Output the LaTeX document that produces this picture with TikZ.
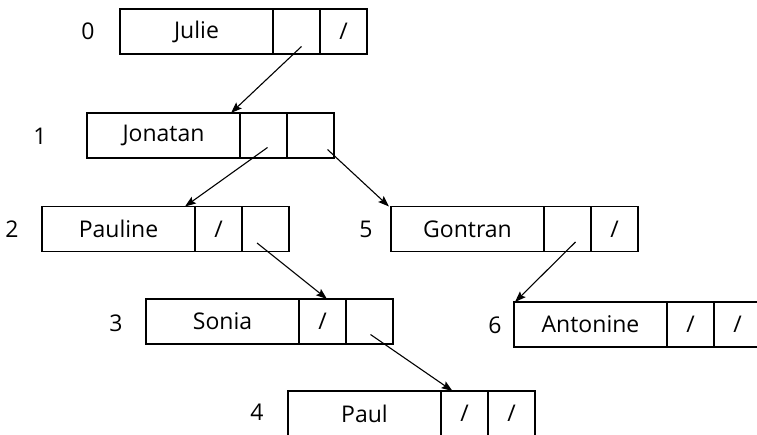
\documentclass[tikz,border=0pt]{standalone}
\usepackage{fontspec}
\setmainfont{Open Sans}
\usetikzlibrary{arrows.meta,calc}
\tikzset{
  cellbox/.style={draw=black, line width=1.3pt, inner sep=0pt, outer sep=0pt, anchor=north west, minimum height=45pt, font=\fontsize{23}{27}\selectfont},
  namecell/.style={cellbox, minimum width=153pt},
  ptrcell/.style={cellbox, minimum width=47pt},
  idxlabel/.style={inner sep=0pt, font=\fontsize{23}{27}\selectfont},
  link/.style={line width=1.1pt, -{Stealth[length=11pt,width=8pt,inset=2pt]}}
}
\newcommand{\listbox}[6]{%
  \node[namecell] (#1-n) at (#2,#3) {#4};
  \node[ptrcell] (#1-a) at (#1-n.north east) {#5};
  \node[ptrcell] (#1-b) at (#1-a.north east) {#6};
}
\begin{document}
\begin{tikzpicture}[x=1pt,y=-1pt]
\useasboundingbox (0,0) rectangle (757,435);
\clip (0,0) rectangle (757,435);
\listbox{b0}{120}{9}{Julie}{}{/}
\listbox{b1}{87}{113}{Jonatan}{}{}
\listbox{b2}{42}{206.5}{Pauline}{/}{}
\listbox{b5}{391}{206.5}{Gontran}{}{/}
\listbox{b3}{146}{299}{Sonia}{/}{}
\listbox{b6}{514}{302}{Antonine}{/}{/}
\listbox{b4}{288}{391}{Paul}{/}{/}
\node[idxlabel] (l0) at (88,31) {0};
\node[idxlabel] (l1) at (40,136) {1};
\node[idxlabel] (l2) at (12,229) {2};
\node[idxlabel] (l5) at (366,229) {5};
\node[idxlabel] (l3) at (116,323) {3};
\node[idxlabel] (l6) at (495,325) {6};
\node[idxlabel] (l4) at (257,412) {4};
\draw[link] ($(b0-a.center)+(5,15)$) -- ($(b1-n.north east)+(-9,0)$);
\draw[link] ($(b1-a.center)+(4,12)$) -- ($(b2-n.north east)+(-10,0)$);
\draw[link] ($(b1-b.center)+(17,14)$) -- ($(b5-n.north west)+(-2,0)$);
\draw[link] ($(b2-b.center)+(-8.5,14)$) -- ($(b3-a.north)+(4.5,0)$);
\draw[link] ($(b5-a.center)+(8,13)$) -- ($(b6-n.north west)+(1,0)$);
\draw[link] ($(b3-b.center)+(1,13)$) -- ($(b4-a.north)+(-12,0)$);
\end{tikzpicture}
\end{document}
